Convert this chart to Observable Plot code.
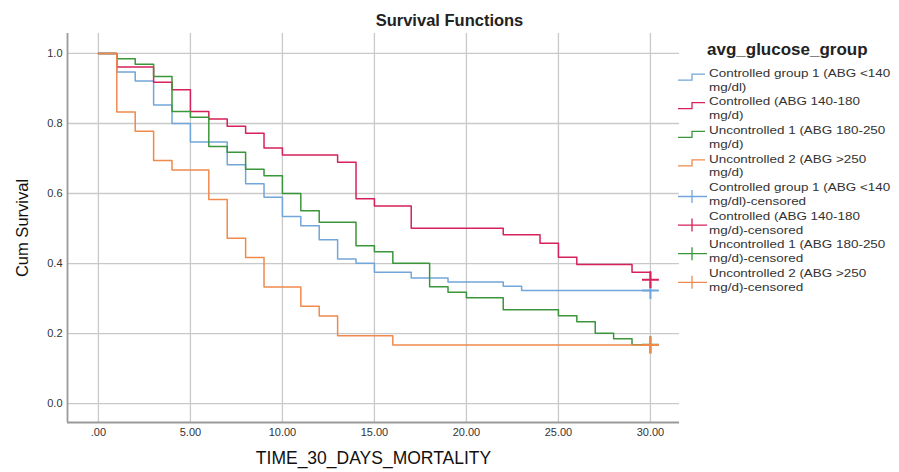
<!DOCTYPE html>
<html>
<head>
<meta charset="utf-8">
<script src="https://cdn.jsdelivr.net/npm/d3@7"></script>
<script src="https://cdn.jsdelivr.net/npm/@observablehq/plot@0.6"></script>
<style>
  body { margin: 0; background: #fff; font-family: "Liberation Sans", Arial, sans-serif; }
  #wrap { position: relative; width: 899px; height: 472px; overflow: hidden; }
  #title { position: absolute; left: 0; top: 11px; width: 899px; text-align: center;
           font-weight: bold; font-size: 16.5px; color: #222; line-height: 19px; }
  #legend { position: absolute; left: 0; top: 0; pointer-events: none; }
  #chart { position: absolute; left: 0; top: 0; }
</style>
</head>
<body>
<div id="wrap">
  <div id="chart"></div>
  <div id="title">Survival Functions</div>
  <svg id="legend" width="899" height="472"></svg>
</div>
<script>
// ---- Data ----
const groupNames = [
  "Controlled group 1 (ABG <140 mg/dl)",
  "Controlled (ABG 140-180 mg/d)",
  "Uncontrolled 1 (ABG 180-250 mg/d)",
  "Uncontrolled 2 (ABG >250 mg/d)"
];
const legendLines = [
  ["Controlled group 1 (ABG <140", "mg/dl)"],
  ["Controlled (ABG 140-180", "mg/d)"],
  ["Uncontrolled 1 (ABG 180-250", "mg/d)"],
  ["Uncontrolled 2 (ABG >250", "mg/d)"],
  ["Controlled group 1 (ABG <140", "mg/dl)-censored"],
  ["Controlled (ABG 140-180", "mg/d)-censored"],
  ["Uncontrolled 1 (ABG 180-250", "mg/d)-censored"],
  ["Uncontrolled 2 (ABG >250", "mg/d)-censored"]
];
const groupColors = ["#72a6da", "#d6215a", "#3b963b", "#f08a4c"];

const ctrl1Time = [0, 1, 2, 3, 4, 5, 7, 8, 9, 10, 11, 12, 13, 14, 15, 17, 19, 22, 23, 30];
const ctrl1Surv = [1, 0.947, 0.921, 0.853, 0.800, 0.747, 0.682, 0.628, 0.589, 0.534, 0.508, 0.468, 0.413, 0.401, 0.375, 0.359, 0.347, 0.335, 0.323, 0.323];

const ctrl2Time = [0, 1, 3, 4, 5, 6, 7, 8, 9, 10, 13, 14, 15, 17, 22, 24, 25, 26, 29, 30];
const ctrl2Surv = [1, 0.961, 0.918, 0.896, 0.834, 0.813, 0.792, 0.772, 0.730, 0.710, 0.689, 0.585, 0.564, 0.501, 0.482, 0.458, 0.418, 0.397, 0.375, 0.354];

const unc1Time = [0, 1, 2, 3, 4, 5, 6, 7, 8, 9, 10, 11, 12, 14, 15, 16, 18, 19, 20, 22, 25, 26, 27, 28, 29, 30];
const unc1Surv = [1, 0.985, 0.969, 0.934, 0.834, 0.818, 0.734, 0.718, 0.669, 0.651, 0.600, 0.551, 0.518, 0.451, 0.434, 0.401, 0.334, 0.318, 0.302, 0.268, 0.251, 0.234, 0.201, 0.185, 0.168, 0.168];

const unc2Time = [0, 1, 2, 3, 4, 6, 7, 8, 9, 11, 12, 13, 16, 30];
const unc2Surv = [1, 0.833, 0.778, 0.694, 0.667, 0.583, 0.472, 0.417, 0.333, 0.278, 0.250, 0.194, 0.167, 0.167];

const censorTime = [30, 30, 30, 30];
const censorSurv = [0.323, 0.354, 0.168, 0.167];

const xTicks = [0, 5, 10, 15, 20, 25, 30];
const yTicks = [0, 0.2, 0.4, 0.6, 0.8, 1.0];
const xDomain = [-1.68, 31.58];
const yDomain = [-0.054, 1.057];

// ---- Build tables ----
const seriesTimes = [ctrl1Time, ctrl2Time, unc1Time, unc2Time];
const seriesSurv = [ctrl1Surv, ctrl2Surv, unc1Surv, unc2Surv];
const steps = [];
seriesTimes.forEach((ts, g) => ts.forEach((t, i) => steps.push({group: groupNames[g], t, s: seriesSurv[g][i]})));
const censored = censorTime.map((t, g) => ({group: groupNames[g], t, s: censorSurv[g]}));

const fmtX = d => d === 0 ? ".00" : d.toFixed(2);

const chart = Plot.plot({
  width: 899,
  height: 472,
  marginLeft: 67,
  marginRight: 220,
  marginTop: 33,
  marginBottom: 50,
  style: {fontFamily: "'Liberation Sans', Arial, sans-serif", background: "#fff", overflow: "visible"},
  x: {domain: xDomain},
  y: {domain: yDomain},
  color: {domain: groupNames, range: groupColors},
  marks: [
    Plot.gridX(xTicks, {stroke: "#c9c9c9", strokeOpacity: 1, strokeWidth: 1.3}),
    Plot.gridY(yTicks, {stroke: "#c9c9c9", strokeOpacity: 1, strokeWidth: 1.3}),
    Plot.ruleX([xDomain[0]], {stroke: "#9a9a9a", strokeWidth: 1.8}),
    Plot.ruleY([yDomain[0]], {stroke: "#9a9a9a", strokeWidth: 1.8}),
    Plot.line(steps, {x: "t", y: "s", z: "group", stroke: "group", curve: "step-after", strokeWidth: 1.5}),
    Plot.dot(censored, {x: "t", y: "s", stroke: "group", symbol: "plus", r: 5.5, strokeWidth: 2}),
    Plot.axisX(xTicks, {tickSize: 0, tickPadding: 6, tickFormat: fmtX, fontSize: 11, fill: "#333", label: null}),
    Plot.axisY(yTicks, {tickSize: 0, tickPadding: 5, tickFormat: d => d.toFixed(1), fontSize: 11, fill: "#333", label: null}),
    Plot.text(["TIME_30_DAYS_MORTALITY"], {frameAnchor: "bottom", dy: 41, fontSize: 17.5, fill: "#111", textAnchor: "middle"}),
    Plot.text(["Cum Survival"], {frameAnchor: "left", dx: -45, rotate: -90, fontSize: 16.5, fill: "#111", textAnchor: "middle"})
  ]
});
document.getElementById("chart").appendChild(chart);

// ---- Legend ----
const lg = d3.select("#legend");
lg.append("text").attr("x", 707).attr("y", 55)
  .attr("font-size", 17).attr("font-weight", "bold").attr("fill", "#222")
  .text("avg_glucose_group");
legendLines.forEach((lines, i) => {
  const y1 = 72.6 + i * 28.6;
  const ym = y1 + 6.5;
  const col = groupColors[i % 4];
  const g = lg.append("g");
  if (i < 4) {
    g.append("path").attr("d", `M678,${ym + 1}H692V${ym - 5}H705`)
      .attr("fill", "none").attr("stroke", col).attr("stroke-width", 1.3);
  } else {
    g.append("path").attr("d", `M678,${ym + 3}H707M692,${ym - 3.5}V${ym + 9.5}`)
      .attr("fill", "none").attr("stroke", col).attr("stroke-width", 1.3);
  }
  lines.forEach((ln, j) => {
    g.append("text")
      .attr("transform", `translate(709,${y1 + j * 13.9}) scale(1.14,1)`)
      .attr("dy", "0.35em").attr("font-size", 11.8).attr("fill", "#333").text(ln);
  });
});
</script>
</body>
</html>
